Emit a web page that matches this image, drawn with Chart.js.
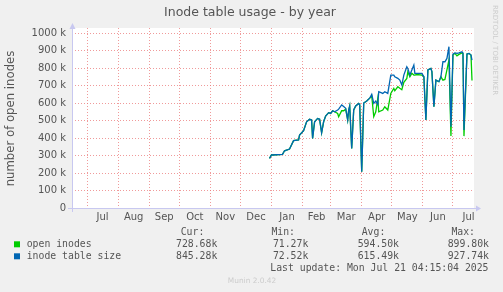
<!DOCTYPE html>
<html>
<head>
<meta charset="utf-8">
<script src="https://cdn.jsdelivr.net/npm/chart.js@4/dist/chart.umd.min.js"></script>
<style>
html, body { margin: 0; padding: 0; background: #f0f0f0; }
#wrap { width: 503px; height: 292px; position: relative; }
</style>
</head>
<body>
<div id="wrap"><canvas id="chartCanvasInode"></canvas></div>
<script>
// x = days counted from 1 Jan 2025, values in thousands
const days = [-2, 0, 11, 13, 18, 22, 27, 28, 32, 35, 38, 40, 41, 43, 46, 48, 50, 52, 54, 57, 59, 61, 63, 66, 67, 70, 72, 74, 76, 77, 78, 80, 82, 84, 87, 88, 90, 92, 95, 98, 100, 102, 104, 106, 107, 111, 113, 116, 119, 122, 123, 126, 128, 130, 132, 135, 136, 138, 140, 142, 143, 145, 150, 152, 154, 156, 159, 160, 162, 164, 167, 169, 171, 173, 175, 177, 179, 181, 183, 185, 187, 190, 191, 192, 195, 197, 199, 200];
const openInodes = [284, 303, 307, 327, 337, 385, 389, 417, 442, 493, 507, 503, 398, 493, 512, 507, 430, 493, 526, 545, 541, 556, 550, 540, 522, 556, 556, 565, 503, 560, 583, 341, 560, 583, 598, 590, 208, 600, 612, 628, 640, 522, 550, 626, 550, 560, 579, 560, 655, 684, 670, 693, 684, 676, 718, 741, 779, 750, 770, 760, 760, 763, 760, 750, 503, 789, 798, 780, 579, 731, 722, 750, 731, 735, 789, 846, 411, 874, 884, 870, 878, 887, 885, 411, 880, 884, 874, 729];
const tableSize = [284, 303, 307, 327, 337, 385, 389, 417, 442, 493, 507, 503, 398, 493, 512, 507, 430, 493, 526, 545, 541, 556, 550, 560, 565, 589, 580, 570, 503, 560, 583, 341, 560, 583, 598, 590, 208, 600, 612, 628, 650, 598, 611, 592, 665, 655, 665, 655, 760, 760, 750, 741, 731, 703, 760, 807, 798, 760, 789, 817, 770, 770, 770, 750, 503, 789, 798, 780, 579, 731, 722, 750, 836, 836, 855, 922, 465, 880, 887, 884, 887, 893, 885, 446, 880, 884, 874, 845];

const monthStarts = [-184, -153, -122, -92, -61, -31, 0, 31, 59, 90, 120, 151, 181, 212];
const monthLabels = ['Jul', 'Aug', 'Sep', 'Oct', 'Nov', 'Dec', 'Jan', 'Feb', 'Mar', 'Apr', 'May', 'Jun', 'Jul'];
const yTicks = [0, 50, 100, 150, 200, 250, 300, 350, 400, 450, 500, 550, 600, 650, 700, 750, 800, 850, 900, 950, 1000];

const seriesNames = ['open inodes', 'inode table size'];
const seriesColors = ['#00cc00', '#0066b3'];
const statHeaders = ['Cur:', 'Min:', 'Avg:', 'Max:'];
const statValues = [
    ['728.68k', '71.27k', '594.50k', '899.80k'],
    ['845.28k', '72.52k', '615.49k', '927.74k'],
];

// month starts get a grid line, mid-month gets the label
const xTicks = [];
monthLabels.forEach((m, i) => {
    xTicks.push({ value: monthStarts[i], label: '', start: true });
    xTicks.push({ value: (monthStarts[i] + monthStarts[i + 1]) / 2, label: m, start: false });
});

const sans = 'DejaVu Sans';
const mono = 'DejaVu Sans Mono';

const munin = {
    id: 'munin',
    beforeDraw(chart) {
        const { ctx, chartArea: a } = chart;
        ctx.save();
        ctx.fillStyle = '#ffffff';
        ctx.fillRect(a.left, a.top, a.right - a.left, a.bottom - a.top);
        ctx.restore();
    },
    afterDraw(chart) {
        const { ctx, chartArea: a } = chart;
        ctx.save();
        // axes with arrows
        ctx.strokeStyle = '#c8c8f0';
        ctx.fillStyle = '#c8c8f0';
        ctx.lineWidth = 1;
        ctx.beginPath();
        ctx.moveTo(a.left - 4, a.bottom + 0.5);
        ctx.lineTo(a.right + 3, a.bottom + 0.5);
        ctx.moveTo(a.left + 0.5, a.bottom + 4);
        ctx.lineTo(a.left + 0.5, a.top);
        ctx.stroke();
        ctx.beginPath();
        ctx.moveTo(a.right + 7, a.bottom + 0.5);
        ctx.lineTo(a.right + 2, a.bottom - 2.5);
        ctx.lineTo(a.right + 2, a.bottom + 3.5);
        ctx.fill();
        ctx.beginPath();
        ctx.moveTo(a.left + 0.5, a.top - 5);
        ctx.lineTo(a.left - 2.5, a.top + 1);
        ctx.lineTo(a.left + 3.5, a.top + 1);
        ctx.fill();

        // title
        ctx.fillStyle = '#555555';
        ctx.textAlign = 'center';
        ctx.textBaseline = 'middle';
        ctx.font = '12.5px "' + sans + '"';
        ctx.fillText('Inode table usage - by year', 250, 13);

        // y axis title
        ctx.save();
        ctx.translate(11, 118.5);
        ctx.rotate(-Math.PI / 2);
        ctx.font = '11.7px "' + sans + '"';
        ctx.fillText('number of open inodes', 0, 0);
        ctx.restore();

        // side watermark
        ctx.save();
        ctx.translate(495, 5);
        ctx.rotate(Math.PI / 2);
        ctx.fillStyle = '#cccccc';
        ctx.textAlign = 'left';
        ctx.font = '7px "' + sans + '"';
        ctx.fillText('RRDTOOL / TOBI OETIKER', 0, 0);
        ctx.restore();

        // legend
        ctx.font = '9.8px "' + mono + '"';
        ctx.fillStyle = '#555555';
        const headerEnds = [204.3, 295, 385.3, 475];
        const valueEnds = [217.3, 308.3, 399, 489];
        ctx.textAlign = 'right';
        statHeaders.forEach((h, i) => ctx.fillText(h, headerEnds[i], 232.3));
        const rowY = [244.3, 256.3];
        seriesNames.forEach((name, r) => {
            ctx.fillStyle = seriesColors[r];
            ctx.fillRect(14, rowY[r] - 3, 6, 6);
            ctx.fillStyle = '#555555';
            ctx.textAlign = 'left';
            ctx.fillText(name, 26.7, rowY[r]);
            ctx.textAlign = 'right';
            statValues[r].forEach((v, i) => ctx.fillText(v, valueEnds[i], rowY[r]));
        });
        ctx.fillText('Last update: Mon Jul 21 04:15:04 2025', 488.5, 268.3);

        ctx.fillStyle = '#cccccc';
        ctx.textAlign = 'center';
        ctx.font = '7.4px "' + sans + '"';
        ctx.fillText('Munin 2.0.42', 252, 281);
        ctx.restore();
    }
};

const ctx = document.getElementById('chartCanvasInode').getContext('2d');
new Chart(ctx, {
    type: 'line',
    plugins: [munin],
    data: {
        datasets: [
            {
                label: seriesNames[0],
                data: days.map((d, i) => ({ x: d, y: openInodes[i] })),
                borderColor: seriesColors[0],
                borderWidth: 1.3,
                pointRadius: 0,
                tension: 0,
                order: 1, // drawn under the blue line
            },
            {
                label: seriesNames[1],
                data: days.map((d, i) => ({ x: d, y: tableSize[i] })),
                borderColor: seriesColors[1],
                borderWidth: 1.3,
                pointRadius: 0,
                tension: 0,
                order: 0,
            },
        ],
    },
    options: {
        responsive: true,
        maintainAspectRatio: false,
        animation: false,
        events: [],
        layout: { padding: { left: 0, right: 29, top: 28, bottom: 64 } },
        plugins: {
            legend: { display: false },
            title: { display: false },
            tooltip: { enabled: false },
        },
        scales: {
            x: {
                type: 'linear',
                min: -199,
                max: 202,
                afterBuildTicks: (scale) => {
                    scale.ticks = xTicks.map((t) => ({ value: t.value }));
                },
                afterFit: (scale) => { scale.height = 20; },
                border: { display: false, dash: [1, 2] },
                grid: {
                    drawTicks: false,
                    lineWidth: 1,
                    color: (c) => (xTicks[c.index] && xTicks[c.index].start ? 'rgba(235,120,120,0.75)' : 'rgba(0,0,0,0)'),
                },
                ticks: {
                    autoSkip: false,
                    maxRotation: 0,
                    padding: 3,
                    color: '#555555',
                    font: { family: sans, size: 10 },
                    callback: (v, i) => (xTicks[i] ? xTicks[i].label : ''),
                },
            },
            y: {
                min: 0,
                max: 1029,
                afterBuildTicks: (scale) => {
                    scale.ticks = yTicks.map((v) => ({ value: v }));
                },
                afterFit: (scale) => { scale.width = 72; },
                border: { display: false, dash: [1, 2] },
                grid: {
                    drawTicks: false,
                    lineWidth: 1,
                    color: (c) => (c.tick && c.tick.value % 100 === 0 ? 'rgba(235,120,120,0.75)' : 'rgba(160,160,160,0.6)'),
                },
                ticks: {
                    padding: 6,
                    color: '#555555',
                    font: { family: sans, size: 10 },
                    callback: (v) => (v % 100 === 0 ? (v === 0 ? '0' : v + ' k') : ''),
                },
            },
        },
    },
});
</script>
</body>
</html>
